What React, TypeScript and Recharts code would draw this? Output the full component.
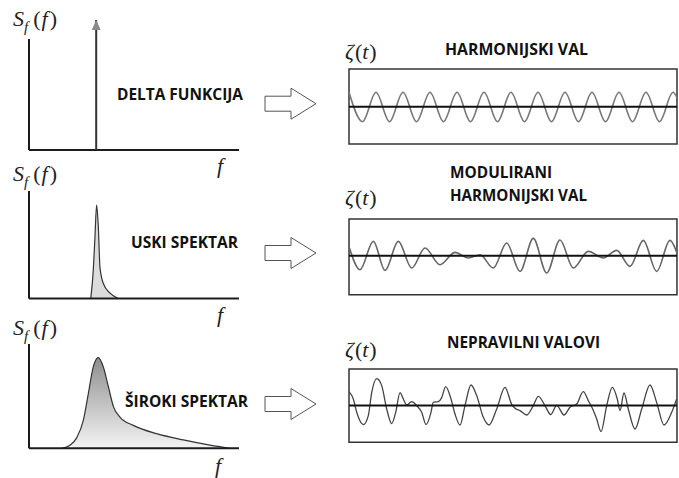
import React from 'react';
import { ComposedChart, Line, Area, XAxis, YAxis, ReferenceLine, ReferenceArea } from 'recharts';

// spectra (f in arbitrary units 0..10, S normalised to axis height)
const deltaF = [3.2, 3.2];
const deltaS = [0, 1.17];

const narrowF = [2.94, 3.06, 3.14, 3.22, 3.3, 3.38, 3.54, 3.86, 4.25];
const narrowS = [0, 0.26, 0.57, 0.87, 0.67, 0.29, 0.14, 0.05, 0];

const broadF = [1.56, 1.95, 2.27, 2.59, 2.83, 3.06, 3.3, 3.54, 3.78, 4.02, 4.33, 4.97, 6.08, 7.35, 8.62, 9.57];
const broadS = [0, 0.03, 0.1, 0.27, 0.53, 0.78, 0.87, 0.78, 0.59, 0.4, 0.3, 0.22, 0.14, 0.08, 0.03, 0];

// time series (t 0..328, zeta in arbitrary units)
const harmonicT = [0, 13.5, 27, 40.5, 54, 67.5, 81, 94.5, 108, 121.5, 135, 148.5, 162, 175.5, 189, 202.5, 216, 229.5, 243, 256.5, 270, 283.5, 297, 310.5, 324, 328];
const harmonicZ = [14.5, -15, 14.5, -15, 14.5, -15, 14.5, -15, 14.5, -15, 14.5, -15, 14.5, -15, 14.5, -15, 14.5, -15, 14.5, -15, 14.5, -15, 14.5, -15, 14.5, 9];

const modT = [0, 11, 24.3, 36, 49.3, 62.7, 76, 91, 106, 119.3, 131, 144.3, 157.7, 171, 184.3, 197.7, 211, 224.3, 239.3, 254.3, 267.7, 281, 294.3, 307.7, 321, 328];
const modZ = [9, -14, 14.3, -14.7, 14.3, -12.3, 7.7, -9, 3.3, -2.3, 1, -12.3, 12.7, -15.7, 17.3, -17.3, 15.7, -12.3, 4.3, -2.3, 5.3, -10.7, 15.3, -15.7, 15.3, 2.7];

const irrT = [0, 4.3, 7.7, 14.3, 19.3, 22.7, 27.7, 32.7, 37.7, 42.7, 46.7, 51, 54.3, 57.7, 62.7, 67.7, 72.7, 77, 82, 84.3, 89.3, 92.7, 96.7, 102, 106, 111, 116, 122, 127.7, 134.3, 140, 147.7, 156, 162.7, 166, 171, 177.7, 184.3, 189.3, 196, 201.7, 207.7, 215, 221, 227.7, 234.3, 239.3, 243.7, 247.7, 252, 257.7, 263.3, 268.3, 271, 275, 279.3, 286, 292.7, 301, 307.7, 315, 322.7, 327.7];
const irrZ = [14, 6.6, -6.7, -19, -10, 13, 27, 20, -3.4, -18, -6.7, 13, 6.6, 0.6, 4, 0, -6.7, -19, -6.7, 3.3, 4, 8, 19, 6.6, -8.4, -19.4, 0, 20.6, 10, -11.7, -19.4, -3.4, 18.3, 1.3, -2.7, -5, -9.4, 0, 9.3, 0, -9, 0.3, -9.4, -1.7, 1.6, 14, 5, -3.4, -13.4, -26, 0, 18.3, 6.6, -5, 12.6, -3.4, -23.4, -3.4, 20.6, 3, -19.4, -6.7, 6.6];

const zip = (xs: number[], ys: number[], kx: string, ky: string) =>
  xs.map((x, i) => ({ [kx]: x, [ky]: ys[i] }));

const deltaData = zip(deltaF, deltaS, 'f', 'S');
const narrowData = zip(narrowF, narrowS, 'f', 'S');
const broadData = zip(broadF, broadS, 'f', 'S');
const harmonicData = zip(harmonicT, harmonicZ, 't', 'z');
const modData = zip(modT, modZ, 't', 'z');
const irrData = zip(irrT, irrZ, 't', 'z');

const AXIS = '#1c1c1c';
const M = { top: 5, right: 5, bottom: 5, left: 5 };
const SPEC_W = 210;
const SERIF = "'Liberation Serif', 'DejaVu Serif', serif";
const SANS = "'Open Sans', 'Liberation Sans', sans-serif";

const ArrowTip = (props: any) => {
  const { cx, cy, index } = props;
  if (index !== 1) return <g key={index} />;
  return <polygon key={index} points={`${cx},${cy} ${cx - 4.5},${cy + 10} ${cx + 4.5},${cy + 10}`} fill="#8a8a8a" />;
};

// L-shaped axes drawn as segments in data space
const Axes = ({ top }: { top: number }) => [
  <ReferenceLine key="x" segment={[{ x: 0, y: 0 }, { x: 10, y: 0 }]} stroke={AXIS} strokeWidth={2} ifOverflow="visible" />,
  <ReferenceLine key="y" segment={[{ x: 0, y: 0 }, { x: 0, y: top }]} stroke={AXIS} strokeWidth={2} ifOverflow="visible" />,
];

const SpecChart = ({ top, height, children, data }: any) => (
  <div style={{ position: 'absolute', left: 29 - M.left, top: top - M.top }}>
    <ComposedChart width={SPEC_W + M.left + M.right} height={height + M.top + M.bottom} margin={M} data={data}>
      {children}
    </ComposedChart>
  </div>
);

const WaveChart = ({ top, bottom, zero, data, stroke, width }: any) => {
  const up = zero - top;
  const down = bottom - zero;
  const m = { top: 5, right: 2, bottom: 5, left: 5 };
  return (
    <div style={{ position: 'absolute', left: 349 - m.left, top: top - m.top }}>
      <ComposedChart width={328 + m.left + m.right} height={bottom - top + m.top + m.bottom} margin={m} data={data}>
        <XAxis type="number" dataKey="t" domain={[0, 328]} hide allowDataOverflow />
        <YAxis type="number" domain={[-down, up]} hide allowDataOverflow />
        <Line type="monotone" dataKey="z" stroke={stroke} strokeWidth={width} dot={false} isAnimationActive={false} />
        <ReferenceLine y={0} stroke="#111" strokeWidth={2} />
        <ReferenceArea x1={0} x2={328} y1={-down} y2={up} stroke="#333" strokeWidth={1.5} fill="none" fillOpacity={0} />
      </ComposedChart>
    </div>
  );
};

const SLabel = ({ x, y }: { x: number; y: number }) => (
  <text x={x} y={y} style={{ fontFamily: SERIF, fontSize: 22 }} fill="#222">
    <tspan style={{ fontStyle: 'italic' }}>S</tspan>
    <tspan style={{ fontStyle: 'italic', fontSize: 15 }} dy={6}>f</tspan>
    <tspan dy={-6} dx={5}>(</tspan>
    <tspan style={{ fontStyle: 'italic' }} dx={1}>f</tspan>
    <tspan dx={2}>)</tspan>
  </text>
);

const ZLabel = ({ x, y }: { x: number; y: number }) => (
  <text x={x} y={y} style={{ fontFamily: SERIF, fontSize: 22 }} fill="#222">
    <tspan style={{ fontStyle: 'italic' }}>ζ</tspan>
    <tspan dx={1}>(</tspan>
    <tspan style={{ fontStyle: 'italic' }}>t</tspan>
    <tspan dx={1}>)</tspan>
  </text>
);

const FLabel = ({ x, y }: { x: number; y: number }) => (
  <text x={x} y={y} style={{ fontFamily: SERIF, fontSize: 22, fontStyle: 'italic' }} fill="#222">f</text>
);

const Title = ({ x, y, w, children }: any) => (
  <text x={x} y={y} style={{ fontFamily: SANS, fontWeight: 700, fontSize: 15.5 }} fill="#111" textLength={w} lengthAdjust="spacingAndGlyphs">
    {children}
  </text>
);

const BlockArrow = ({ cy }: { cy: number }) => (
  <polygon
    points={`265,${cy - 7.5} 291,${cy - 7.5} 291,${cy - 15.5} 316,${cy} 291,${cy + 15.5} 291,${cy + 7.5} 265,${cy + 7.5}`}
    fill="#fff"
    stroke="#555"
    strokeWidth={1}
  />
);

export default function App() {
  return (
    <div style={{ position: 'absolute', left: 0, top: 0, width: 679, height: 478, background: '#fff', overflow: 'hidden' }}>
      {/* delta */}
      <SpecChart top={20} height={130}>
        <XAxis type="number" dataKey="f" domain={[0, 10]} hide allowDataOverflow />
        <YAxis type="number" domain={[0, 1.17]} hide allowDataOverflow />
        {Axes({ top: 1 })}
        <Line data={deltaData} dataKey="S" type="linear" stroke="#333" strokeWidth={2} dot={ArrowTip} activeDot={false} isAnimationActive={false} />
      </SpecChart>

      {/* narrow */}
      <SpecChart top={190.7} height={107.6} data={narrowData}>
        <XAxis type="number" dataKey="f" domain={[0, 10]} hide allowDataOverflow />
        <YAxis type="number" domain={[0, 1]} hide allowDataOverflow />
        <Area dataKey="S" type="monotone" stroke="#333" strokeWidth={1.2} fill="#dcdcdc" fillOpacity={1} isAnimationActive={false} />
        {Axes({ top: 1 })}
      </SpecChart>

      {/* broad */}
      <SpecChart top={344} height={104.3} data={broadData}>
        <defs>
          <linearGradient id="broadFill" x1="0" y1="0" x2="0" y2="1">
            <stop offset="0%" stopColor="#8e8e8e" />
            <stop offset="100%" stopColor="#f4f4f4" />
          </linearGradient>
        </defs>
        <XAxis type="number" dataKey="f" domain={[0, 10]} hide allowDataOverflow />
        <YAxis type="number" domain={[0, 1]} hide allowDataOverflow />
        <Area dataKey="S" type="monotone" stroke="#333" strokeWidth={1.2} fill="url(#broadFill)" fillOpacity={1} isAnimationActive={false} />
        {Axes({ top: 1 })}
      </SpecChart>

      <WaveChart top={69} bottom={144} zero={106.7} data={harmonicData} stroke="#777" width={1.6} />
      <WaveChart top={219.3} bottom={295} zero={256} data={modData} stroke="#666" width={1.6} />
      <WaveChart top={368.7} bottom={442} zero={405.3} data={irrData} stroke="#444" width={1.3} />

      <svg width={679} height={478} style={{ position: 'absolute', left: 0, top: 0, pointerEvents: 'none' }}>
        <SLabel x={13} y={26} />
        <SLabel x={13} y={181} />
        <SLabel x={13} y={335} />
        <FLabel x={217} y={173} />
        <FLabel x={217} y={322} />
        <FLabel x={215} y={473} />
        <ZLabel x={345} y={59} />
        <ZLabel x={345} y={205} />
        <ZLabel x={345} y={357} />

        <Title x={117} y={100} w={126}>DELTA FUNKCIJA</Title>
        <Title x={131} y={248} w={107}>USKI SPEKTAR</Title>
        <Title x={125} y={407} w={123}>ŠIROKI SPEKTAR</Title>
        <Title x={445} y={55} w={143}>HARMONIJSKI VAL</Title>
        <Title x={450} y={178} w={102}>MODULIRANI</Title>
        <Title x={450} y={201} w={137}>HARMONIJSKI VAL</Title>
        <Title x={447} y={348} w={153}>NEPRAVILNI VALOVI</Title>

        <BlockArrow cy={103.7} />
        <BlockArrow cy={253} />
        <BlockArrow cy={404} />
      </svg>
    </div>
  );
}
